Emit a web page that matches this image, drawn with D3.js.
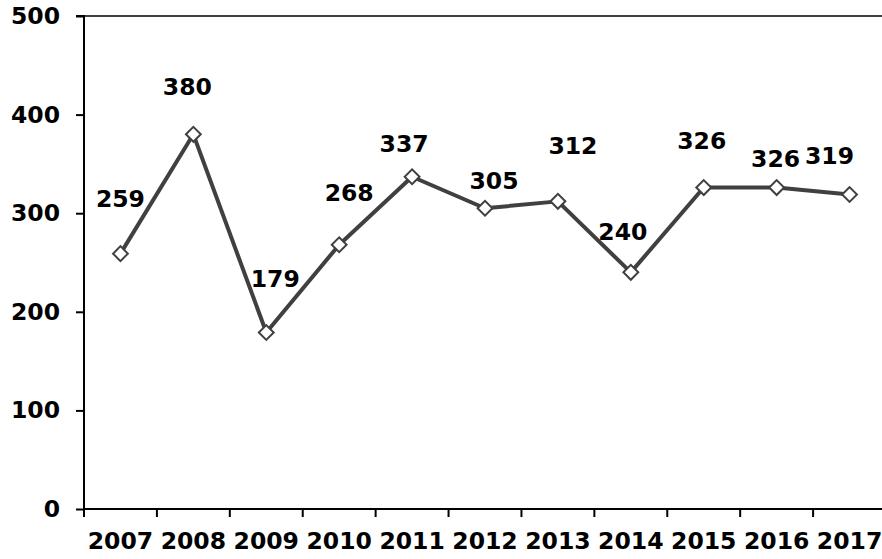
<!DOCTYPE html>
<html>
<head>
<meta charset="utf-8">
<script src="https://cdn.jsdelivr.net/npm/d3@7"></script>
<style>
  body { margin: 0; background: #fff; }
  svg { display: block; }
  text { font-family: "DejaVu Sans", Verdana, sans-serif; font-weight: bold; }
</style>
</head>
<body>
<div id="chart"></div>
<script>
// data
const years = ["2007", "2008", "2009", "2010", "2011", "2012", "2013", "2014", "2015", "2016", "2017"];
const values = [259, 380, 179, 268, 337, 305, 312, 240, 326, 326, 319];
const yTicks = [0, 100, 200, 300, 400, 500];

// where each value label sits relative to its point (dx, dy)
const labelOffsets = [[0, -55], [-6, -47], [9, -54], [10, -52], [-8, -33], [9, -27],
                      [15, -55], [-8, -40], [-2, -47], [-1, -29], [-20, -38]];

const W = 882, H = 559;
const plotLeft = 84, plotRight = 886, plotTop = 16, plotBottom = 509;
const fontSize = "23.5px";

const svg = d3.select("#chart")
    .append("svg")
    .attr("width", W)
    .attr("height", H);

const x = d3.scaleBand()
    .domain(years)
    .range([plotLeft, plotRight])
    .padding(0);

const y = d3.scaleLinear()
    .domain([0, 500])
    .range([plotBottom, plotTop]);

// top border line
svg.append("line")
    .attr("x1", plotLeft).attr("x2", W)
    .attr("y1", y(500)).attr("y2", y(500))
    .attr("stroke", "#404040")
    .attr("stroke-width", 2);

// Y axis
const yAxis = svg.append("g")
    .attr("transform", `translate(${plotLeft},0)`)
    .call(d3.axisLeft(y).tickValues(yTicks).tickSize(8).tickPadding(16));
yAxis.selectAll("text").attr("font-size", fontSize).attr("fill", "#000");
yAxis.selectAll("line, path").attr("stroke", "#000").attr("stroke-width", 2);
yAxis.select(".domain").attr("d", `M-8,${plotTop}H0V${plotBottom}`);

// X axis, ticks between categories
const xAxis = svg.append("g")
    .attr("transform", `translate(0,${plotBottom})`)
    .call(d3.axisBottom(x).tickSize(0).tickPadding(23));
xAxis.selectAll("text").attr("font-size", fontSize).attr("fill", "#000");
xAxis.select(".domain").attr("d", `M${plotLeft},0H${plotRight}`).attr("stroke", "#000").attr("stroke-width", 2);
xAxis.selectAll(".edge")
    .data(years)
    .join("line")
    .attr("class", "edge")
    .attr("x1", d => x(d)).attr("x2", d => x(d))
    .attr("y1", 0).attr("y2", 8)
    .attr("stroke", "#000")
    .attr("stroke-width", 2);

// the line
const line = d3.line()
    .x((d, i) => x(years[i]) + x.bandwidth() / 2)
    .y(d => y(d));

svg.append("path")
    .datum(values)
    .attr("d", line)
    .attr("fill", "none")
    .attr("stroke", "#404040")
    .attr("stroke-width", 4)
    .attr("stroke-linejoin", "round");

// diamond markers
svg.selectAll(".marker")
    .data(values)
    .join("path")
    .attr("class", "marker")
    .attr("d", d3.symbol().type(d3.symbolSquare).size(110))
    .attr("transform", (d, i) => `translate(${x(years[i]) + x.bandwidth() / 2},${y(d)}) rotate(45)`)
    .attr("fill", "#fff")
    .attr("stroke", "#404040")
    .attr("stroke-width", 2);

// value labels
svg.selectAll(".vlabel")
    .data(values)
    .join("text")
    .attr("class", "vlabel")
    .attr("x", (d, i) => x(years[i]) + x.bandwidth() / 2 + labelOffsets[i][0])
    .attr("y", (d, i) => y(d) + labelOffsets[i][1])
    .attr("text-anchor", "middle")
    .attr("dominant-baseline", "central")
    .attr("font-size", fontSize)
    .attr("fill", "#000")
    .text(d => d);
</script>
</body>
</html>
